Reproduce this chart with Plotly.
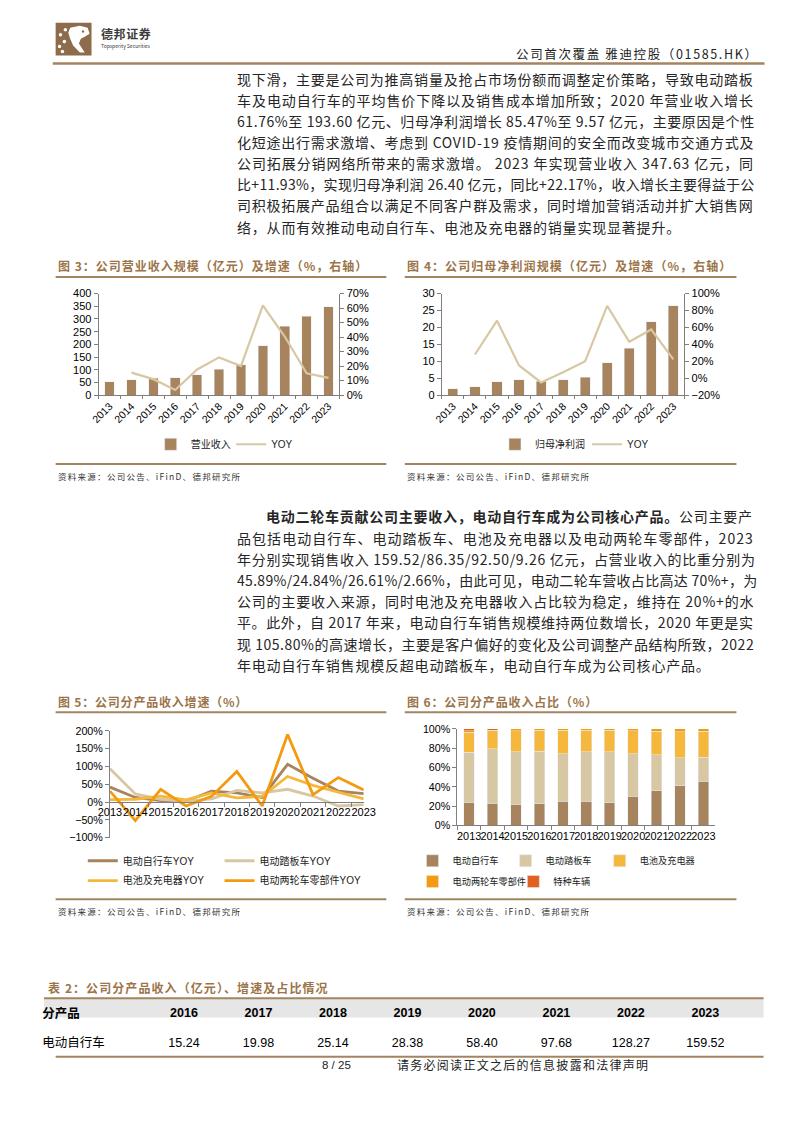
import plotly.graph_objects as go

W, H = 794, 1123
def X(px): return px / W
def Y(py): return 1 - py / H

# ---------------- data ----------------
years = ['2013', '2014', '2015', '2016', '2017', '2018', '2019', '2020', '2021', '2022', '2023']
revenue = [52.4, 59.5, 66.3, 68.3, 80.4, 100.9, 119.7, 193.6, 271.9, 310.6, 347.6]
revenue_yoy = [None, 0.155, 0.11, 0.035, 0.177, 0.26, 0.20, 0.618, 0.404, 0.150, 0.119]
net_profit = [1.9, 2.4, 3.9, 4.5, 4.1, 4.5, 5.3, 9.6, 13.8, 21.7, 26.4]
net_profit_yoy = [None, 0.28, 0.68, 0.15, -0.05, 0.07, 0.20, 0.855, 0.43, 0.575, 0.222]

ebike_yoy = [42, 13, 4, 2, 31, 26, 13, 106, 67, 31, 24]
scooter_yoy = [94, 23, 8, 2, 9, 33, 26, 36, 17, -11, -7]
battery_yoy = [7, 8, 17, 6, 26, 12, 16, 72, 47, 29, 9]
parts_yoy = [31, -52, 36, -11, 16, 86, -11, 190, 21, 69, 34]

share_ebike = [24.0, 23.2, 22.2, 22.3, 24.9, 24.9, 23.7, 30.2, 35.9, 41.3, 45.89]
share_scooter = [52.0, 56.0, 54.3, 54.3, 49.1, 51.6, 52.8, 43.8, 37.5, 29.0, 24.84]
share_battery = [20.4, 19.1, 21.8, 21.9, 24.6, 22.1, 22.1, 24.0, 24.2, 27.0, 26.61]
share_parts = [1.6, 0.3, 1.7, 1.5, 1.4, 1.4, 1.4, 2.0, 2.4, 2.7, 2.66]
share_special = [2.0, 1.4, 0, 0, 0, 0, 0, 0, 0, 0, 0]

table_years = ['2016', '2017', '2018', '2019', '2020', '2021', '2022', '2023']
ebike_revenue = [15.24, 19.98, 25.14, 28.38, 58.40, 97.68, 128.27, 159.52]

para1 = [
    '现下滑，主要是公司为推高销量及抢占市场份额而调整定价策略，导致电动踏板',
    '车及电动自行车的平均售价下降以及销售成本增加所致；2020 年营业收入增长',
    '61.76%至 193.60 亿元、归母净利润增长 85.47%至 9.57 亿元，主要原因是个性',
    '化短途出行需求激增、考虑到 COVID-19 疫情期间的安全而改变城市交通方式及',
    '公司拓展分销网络所带来的需求激增。 2023 年实现营业收入 347.63 亿元，同',
    '比+11.93%，实现归母净利润 26.40 亿元，同比+22.17%，收入增长主要得益于公',
    '司积极拓展产品组合以满足不同客户群及需求，同时增加营销活动并扩大销售网',
    '络，从而有效推动电动自行车、电池及充电器的销量实现显著提升。',
]
para2_bold = '电动二轮车贡献公司主要收入，电动自行车成为公司核心产品。'
para2 = [
    '公司主要产',
    '品包括电动自行车、电动踏板车、电池及充电器以及电动两轮车零部件，2023',
    '年分别实现销售收入 159.52/86.35/92.50/9.26 亿元，占营业收入的比重分别为',
    '45.89%/24.84%/26.61%/2.66%，由此可见，电动二轮车营收占比高达 70%+，为',
    '公司的主要收入来源，同时电池及充电器收入占比较为稳定，维持在 20%+的水',
    '平。此外，自 2017 年来，电动自行车销售规模维持两位数增长，2020 年更是实',
    '现 105.80%的高速增长，主要是客户偏好的变化及公司调整产品结构所致，2022',
    '年电动自行车销售规模反超电动踏板车，电动自行车成为公司核心产品。',
]

# ---------------- styles ----------------
CJK = 'Noto Sans CJK SC'
SANS = 'Liberation Sans, Arial, Noto Sans CJK SC'
LINE_BROWN = '#a3845f'
TITLE_BROWN = '#9c7449'
BAR = '#a7845d'
BEIGE = '#d8c7a3'
BAT = '#f6b83c'
PARTS = '#f39a0e'
SPECIAL = '#e0611d'
AXIS = '#7f7f7f'
TXT = '#262626'


def em(ch):
    o = ord(ch)
    if o >= 0x2E80:
        return 1.0
    if ch.isdigit():
        return 0.555
    tbl = {'.': 0.27, '%': 0.89, '+': 0.555, '/': 0.36, '-': 0.34, ' ': 0.224,
           'C': 0.64, 'O': 0.69, 'V': 0.6, 'I': 0.27, 'D': 0.68, 'H': 0.7, 'K': 0.6,
           'Y': 0.58, 'i': 0.25, 'F': 0.55, 'n': 0.56}
    return tbl.get(ch, 0.55)


def fit_ls(s, size, width):
    nat = sum(em(c) for c in s) * size
    return max((width - nat) / max(len(s) - 1, 1), 0.0)


annotations = []


def add_text(x, y, s, size, color=TXT, family=CJK, anchor='left', ls=0.0, bold=False):
    txt = '<b>' + s + '</b>' if bold else s
    if ls:
        txt = '<span style="letter-spacing:%.2fpx">%s</span>' % (ls, txt)
    annotations.append(dict(x=X(x), y=Y(y), xref='paper', yref='paper', text=txt,
                            showarrow=False, xanchor=anchor, yanchor='middle', borderwidth=0,
                            font=dict(family=family, size=size, color=color), borderpad=0))


# ---------------- legends (one per item, placed where the reference has them) ----------------
legends = {}
leg_counter = [0]


def new_legend(x, y, size=10):
    leg_counter[0] += 1
    key = 'legend' if leg_counter[0] == 1 else 'legend%d' % leg_counter[0]
    legends[key] = dict(x=X(x), y=Y(y), xanchor='left', yanchor='middle', orientation='h',
                        font=dict(family=SANS, size=size, color='#222'), bgcolor='rgba(0,0,0,0)',
                        borderwidth=0, itemwidth=30, traceorder='normal', visible=True,
                        itemclick=False, itemdoubleclick=False)
    return key


fig = go.Figure()

# Chart 3
fig.add_trace(go.Bar(x=years, y=revenue, name='营业收入', marker_color=BAR, width=0.44,
                     xaxis='x', yaxis='y', legend=new_legend(143, 443), showlegend=True))
fig.add_trace(go.Scatter(x=years, y=revenue_yoy, name='YOY', mode='lines',
                         line=dict(color=BEIGE, width=2.2), xaxis='x', yaxis='y2',
                         legend=new_legend(226, 443), showlegend=True))
# Chart 4
fig.add_trace(go.Bar(x=years, y=net_profit, name='归母净利润', marker_color=BAR, width=0.46,
                     xaxis='x2', yaxis='y3', legend=new_legend(498, 443), showlegend=True))
fig.add_trace(go.Scatter(x=years, y=net_profit_yoy, name='YOY', mode='lines',
                         line=dict(color=BEIGE, width=2.2), xaxis='x2', yaxis='y4',
                         legend=new_legend(593, 443), showlegend=True))
# Chart 5
for vals, nm, col, lx, ly in [(ebike_yoy, '电动自行车YOY', BAR, 73, 864),
                              (scooter_yoy, '电动踏板车YOY', BEIGE, 214, 864),
                              (battery_yoy, '电池及充电器YOY', BAT, 73, 884),
                              (parts_yoy, '电动两轮车零部件YOY', PARTS, 214, 884)]:
    fig.add_trace(go.Scatter(x=years, y=vals, name=nm, mode='lines', line=dict(color=col, width=2.8),
                             xaxis='x3', yaxis='y5', legend=new_legend(lx, ly), showlegend=True))
# Chart 6
for vals, nm, col, lx, ly in [(share_ebike, '电动自行车', BAR, 413, 864),
                              (share_scooter, '电动踏板车', BEIGE, 509, 864),
                              (share_battery, '电池及充电器', BAT, 606, 864),
                              (share_parts, '电动两轮车零部件', PARTS, 413, 885),
                              (share_special, '特种车辆', SPECIAL, 517, 885)]:
    fig.add_trace(go.Bar(x=years, y=vals, name=nm, marker_color=col, width=0.45,
                         xaxis='x4', yaxis='y6', legend=new_legend(lx, ly, 9.2), showlegend=True))

# Table (grey header band drawn as a shape below; the table itself is transparent)
fig.add_trace(go.Table(
    domain=dict(x=[X(23), X(778)], y=[Y(1058), Y(1003)]),
    columnwidth=[114] + [75.5] * 8 + [24],
    header=dict(values=['<b>分产品</b>'] + ['<b>%s</b>' % y for y in table_years] + [''],
                fill_color='rgba(0,0,0,0)', line_color='rgba(0,0,0,0)', line_width=0,
                align=['left'] + ['center'] * 9, height=15,
                font=dict(family=SANS, size=12.5, color='#000')),
    cells=dict(values=[['电动自行车']] + [['%.2f' % v] for v in ebike_revenue] + [['']],
               fill_color='rgba(0,0,0,0)', line_color='rgba(0,0,0,0)', line_width=0,
               align=['left'] + ['center'] * 9, height=20,
               font=dict(family=SANS, size=12.5, color='#000')),
))


def axcommon(**kw):
    d = dict(showline=True, linecolor=AXIS, linewidth=1, ticks='outside', tickcolor=AXIS, ticklen=4,
             showgrid=False, zeroline=False, fixedrange=True,
             tickfont=dict(family=SANS, size=11, color='#000'))
    d.update(kw)
    return d


ydom_top = [Y(393.3), Y(290.7)]
layout = dict(
    width=W, height=H, margin=dict(l=0, r=0, t=0, b=0), showlegend=True,
    paper_bgcolor='white', plot_bgcolor='white', barmode='stack',
    xaxis=axcommon(domain=[X(89.3), X(337.7)], anchor='y', type='category', tickangle=-45,
                   tickson='boundaries', ticklen=3, tickfont=dict(family=SANS, size=10.5, color='#000')),
    yaxis=axcommon(domain=ydom_top, anchor='x', range=[0, 400], dtick=50),
    yaxis2=axcommon(domain=ydom_top, anchor='x', overlaying='y', side='right', range=[0, 0.7],
                    dtick=0.1, tickformat='.0%'),
    xaxis2=axcommon(domain=[X(443.3), X(693.3)], anchor='y3', type='category', tickangle=-45,
                    tickson='boundaries', ticklen=3, tickfont=dict(family=SANS, size=10.5, color='#000')),
    yaxis3=axcommon(domain=ydom_top, anchor='x2', range=[0, 30], dtick=5),
    yaxis4=axcommon(domain=ydom_top, anchor='x2', overlaying='y3', side='right', range=[-0.2, 1.0],
                    dtick=0.2, tickformat='.0%'),
    xaxis3=axcommon(domain=[X(101), X(362.7)], anchor='free', position=Y(804.5), type='category',
                    tickangle=0, tickson='boundaries', ticklen=4,
                    tickfont=dict(family=SANS, size=11, color='#000')),
    yaxis5=axcommon(domain=[Y(840.7), Y(732.7)], anchor='x3', range=[-100, 200], dtick=50,
                    ticksuffix='%', tickfont=dict(family=SANS, size=10.7, color='#000')),
    xaxis4=axcommon(domain=[X(459.3), X(725)], anchor='y6', type='category', tickangle=0,
                    tickson='boundaries', ticklen=4, tickfont=dict(family=SANS, size=10.9, color='#000')),
    yaxis6=axcommon(domain=[Y(828.3), Y(730.7)], anchor='x4', range=[0, 100], dtick=20,
                    ticksuffix='%', tickfont=dict(family=SANS, size=10.7, color='#000')),
)
layout.update(legends)

# ---------------- texts ----------------
add_text(92, 28, '德邦证券', 12, color='#3a3a3a', bold=True, ls=0.6)
add_text(92, 40, 'Topsperity Securities', 5, color='#3a3a3a')
hdr = '公司首次覆盖 雅迪控股（01585.HK）'
add_text(770, 48, hdr, 12.5, color='#222', anchor='right', ls=fit_ls(hdr, 12.5, 240))

BODY = 14
LEFT, RIGHT = 232, 748
for i, s in enumerate(para1):
    y = 73.5 + 21.35 * i
    ls = fit_ls(s, BODY, RIGHT - LEFT) if i < len(para1) - 1 else 0.8
    add_text(LEFT, y, s, BODY, ls=ls)

y0 = 516
first = para2_bold + para2[0]
ls1 = fit_ls(first, BODY, RIGHT - 262)
annotations.append(dict(x=X(262), y=Y(y0), xref='paper', yref='paper', showarrow=False,
                        xanchor='left', yanchor='middle', borderpad=0, borderwidth=0,
                        font=dict(family=CJK, size=BODY, color=TXT),
                        text='<span style="letter-spacing:%.2fpx"><b>%s</b>%s</span>' % (ls1, para2_bold, para2[0])))
for i, s in enumerate(para2[1:], start=1):
    y = y0 + 21.4 * i
    ls = fit_ls(s, BODY, RIGHT - LEFT) if i < len(para2) - 1 else 0.8
    add_text(LEFT, y, s, BODY, ls=ls)

titles = [(47, 262, '图 3：公司营业收入规模（亿元）及增速（%，右轴）', 308),
          (407, 262, '图 4：公司归母净利润规模（亿元）及增速（%，右轴）', 323),
          (47, 703, '图 5：公司分产品收入增速（%）', 188),
          (407, 703, '图 6：公司分产品收入占比（%）', 189),
          (37, 992, '表 2：公司分产品收入（亿元）、增速及占比情况', 285)]
for x, y, s, wdt in titles:
    add_text(x, y, s, 12, color=TITLE_BROWN, bold=True, ls=fit_ls(s, 12, wdt))

src = '资料来源：公司公告、iFinD、德邦研究所'
for x, y in [(47, 475), (407, 475), (47, 915), (407, 915)]:
    add_text(x, y, src, 8.5, color='#333', ls=fit_ls(src, 8.5, 181))

add_text(335, 1070, '8 / 25', 11.5, color='#222', family=SANS, anchor='center')
foot = '请务必阅读正文之后的信息披露和法律声明'
add_text(397, 1070, foot, 12, color='#222', ls=fit_ls(foot, 12, 251))

# ---------------- shapes ----------------
shapes = []


def hline(x0, x1, y, width=2, color=LINE_BROWN):
    shapes.append(dict(type='line', xref='paper', yref='paper', x0=X(x0), x1=X(x1), y0=Y(y), y1=Y(y),
                       line=dict(color=color, width=width)))


def path(pts):
    return 'M ' + ' L '.join('%.5f,%.5f' % (X(a), Y(b)) for a, b in pts) + ' Z'


shapes.append(dict(type='rect', xref='paper', yref='paper', x0=X(45), x1=X(82), y0=Y(50), y1=Y(17),
                   fillcolor='#8d6b4b', line=dict(width=0)))
shapes.append(dict(type='path', xref='paper', yref='paper', fillcolor='white', line=dict(width=0),
                   path=path([(60, 22), (70, 20), (78, 22), (80, 28), (75, 31), (71, 33), (69, 38),
                              (75, 47), (70, 47), (63, 40), (60, 33), (58, 27)])))
for cx, cy in [(50, 29), (54, 36), (49, 41), (55, 24), (52, 46)]:
    shapes.append(dict(type='circle', xref='paper', yref='paper', x0=X(cx - 1.8), x1=X(cx + 1.8),
                       y0=Y(cy + 1.8), y1=Y(cy - 1.8), fillcolor='white', line=dict(width=0)))
shapes.append(dict(type='circle', xref='paper', yref='paper', x0=X(72), x1=X(74.5),
                   y0=Y(27), y1=Y(24.5), fillcolor='#8d6b4b', line=dict(width=0)))

# table header band
shapes.append(dict(type='rect', xref='paper', yref='paper', layer='below', x0=X(33), x1=X(775),
                   y0=Y(1022.5), y1=Y(1003.5), fillcolor='#e6e6e6', line=dict(width=0)))

hline(42, 776, 58, 2.5)
for x0, x1 in [(45, 386), (405, 747)]:
    for y in [274, 463, 714, 903]:
        hline(x0, x1, y, 2)
hline(33, 775, 1003, 2)
hline(45, 775, 1062, 2)

layout['annotations'] = annotations
layout['shapes'] = shapes
fig.update_layout(**layout)
fig.write_html('out.html', config={'displayModeBar': False},
               post_script="document.body.style.margin='0';document.body.style.padding='0';"
                           "document.documentElement.style.margin='0';")
